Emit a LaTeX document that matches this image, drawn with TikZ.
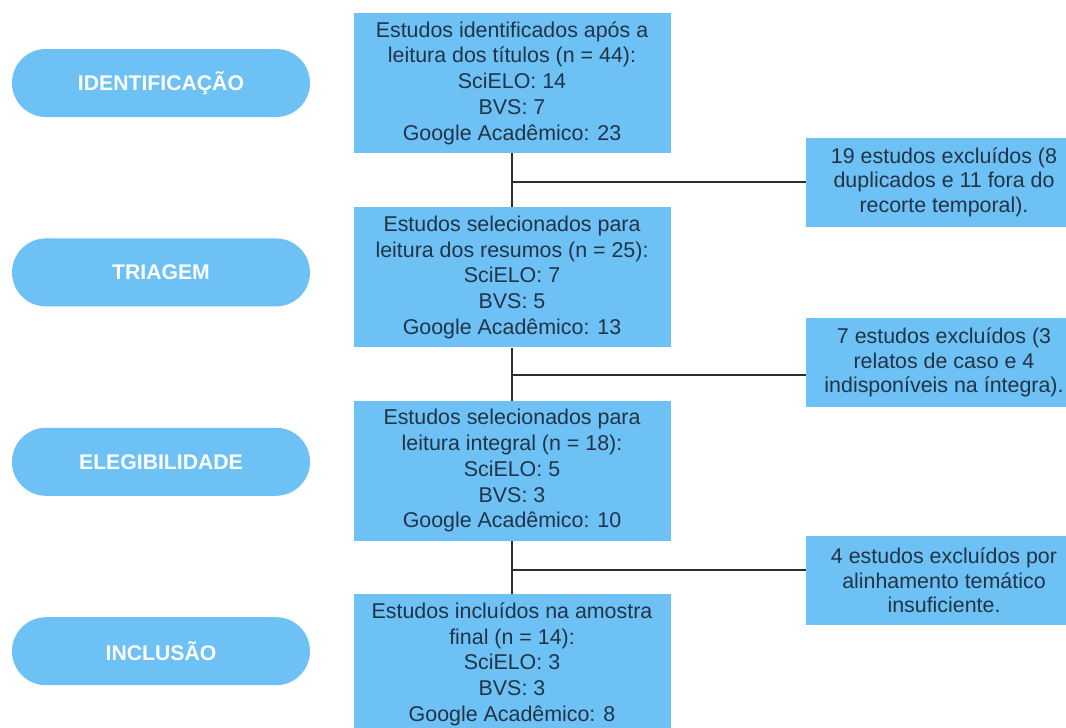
\documentclass[tikz,border=0pt]{standalone}
\usepackage{fontspec}
\setmainfont{Liberation Sans}
\usepackage{tikz}
\usetikzlibrary{positioning}
\definecolor{azulclaro}{RGB}{109,193,244}
\definecolor{textoescuro}{RGB}{33,52,71}
\definecolor{linha}{RGB}{45,45,45}
\tikzset{etapa/.style={fill=azulclaro, draw=none, rounded corners=34pt, minimum width=298pt, minimum height=68pt, text=white, font=\fontsize{21.2}{25}\selectfont\bfseries}}
\tikzset{caixa/.style={fill=azulclaro, draw=none, minimum width=317pt, minimum height=140pt, inner sep=2pt, align=center, text=textoescuro, font=\fontsize{21.4}{25.8}\selectfont}}
\tikzset{excluidos/.style={fill=azulclaro, draw=none, minimum width=276pt, minimum height=89pt, inner sep=2pt, align=center, text=textoescuro, font=\fontsize{21.4}{24.5}\selectfont}}
\tikzset{ligacao/.style={line width=2pt, color=linha}}

\begin{document}
\begin{tikzpicture}[x=1pt, y=-1pt]
            \useasboundingbox (0,0) rectangle (1066,728);

            % etapas
            \node[etapa] (p1) at (161,83) {IDENTIFICAÇÃO};
            \node[etapa, below=121pt of p1] (p2) {TRIAGEM};
            \node[etapa, below=121pt of p2] (p3) {ELEGIBILIDADE};
            \node[etapa, below=121pt of p3] (p4) {INCLUSÃO};

            % fluxo principal
            \node[caixa] (b1) at (512,83) {Estudos identificados após a\\leitura dos títulos (n = 44):\\SciELO: 14\\BVS: 7\\Google Acadêmico: 23};
            \node[caixa, below=54pt of b1] (b2) {Estudos selecionados para\\leitura dos resumos (n = 25):\\SciELO: 7\\BVS: 5\\Google Acadêmico: 13};
            \node[caixa, below=53pt of b2] (b3) {Estudos selecionados para\\leitura integral (n = 18):\\SciELO: 5\\BVS: 3\\Google Acadêmico: 10};
            \node[caixa, below=53pt of b3] (b4) {Estudos incluídos na amostra\\final (n = 14):\\SciELO: 3\\BVS: 3\\Google Acadêmico: 8};

            % exclusoes
            \node[excluidos] (e1) at (944,182)   {19 estudos excluídos (8\\duplicados e 11 fora do\\recorte temporal).};
            \node[excluidos] (e2) at (944,362.5) {7 estudos excluídos (3\\relatos de caso e 4\\indisponíveis na íntegra).};
            \node[excluidos] (e3) at (944,580.5) {4 estudos excluídos por\\alinhamento temático\\insuficiente.};

            \coordinate (j1) at (512,182);
            \coordinate (j2) at (512,375);
            \coordinate (j3) at (512,570);

            \draw[ligacao] (b1) -- (b2);
            \draw[ligacao] (b2) -- (b3);
            \draw[ligacao] (b3) -- (b4);
            \draw[ligacao] (j1) -- (j1 -| e1.west);
            \draw[ligacao] (j2) -- (j2 -| e2.west);
            \draw[ligacao] (j3) -- (j3 -| e3.west);
        \end{tikzpicture}
\end{document}
